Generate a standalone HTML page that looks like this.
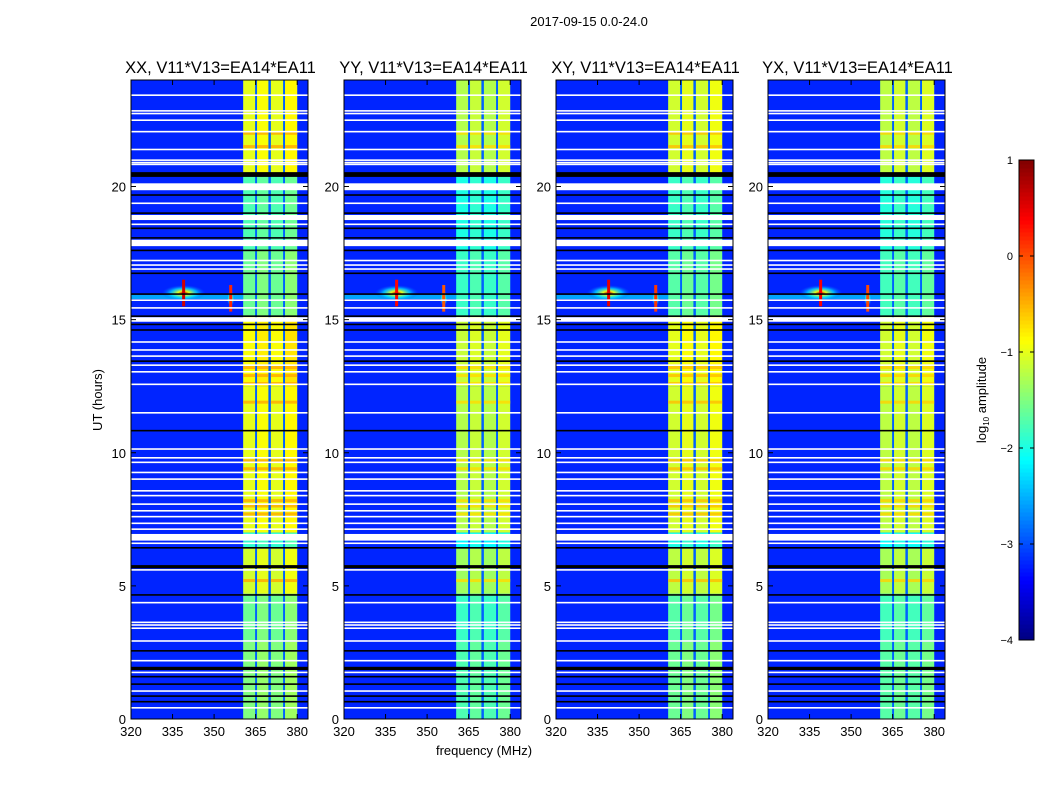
<!DOCTYPE html>
<html><head><meta charset="utf-8"><style>
html,body{margin:0;padding:0;background:#fff;}
svg{display:block;font-family:"Liberation Sans","DejaVu Sans",sans-serif;}
</style></head><body>
<svg id="fig" width="1050" height="800" viewBox="0 0 1050 800">
<text x="589" y="26" font-size="13" text-anchor="middle">2017-09-15 0.0-24.0</text>
<g id="panels"></g>
<text x="484" y="755" font-size="13" text-anchor="middle">frequency (MHz)</text>
<text transform="translate(102,400) rotate(-90)" font-size="13" text-anchor="middle">UT (hours)</text>
<g id="cbar"></g>
<text transform="translate(986,400) rotate(-90)" font-size="13" text-anchor="middle">log<tspan font-size="8" dy="3">10</tspan><tspan dy="-3"> amplitude</tspan></text>
</svg>
<script>
const panelTitles=["XX, V11*V13=EA14*EA11","YY, V11*V13=EA14*EA11","XY, V11*V13=EA14*EA11","YX, V11*V13=EA14*EA11"];
const panelOffsets=[0,-0.25,-0.1,-0.2];
const xTicks=[320,335,350,365,380];
const yTicks=[0,5,10,15,20];
const cbarTicks=[1,0,-1,-2,-3,-4];
const backgroundLevel=-3.2;
const bandColumns=[[360.5,364.8],[365.5,369.6],[370.5,374.9],[375.6,380]];
const columnOffsets=[0,0.1,0,0.15];
const bandSegments=[[20.5,24,-1.0],[17.6,20.5,-1.75],[15.1,17.6,-1.6],[12.5,15.1,-0.9],[8,12.5,-1.0],[7,8,-1.0],[6.4,7,-1.9],[4.7,6.4,-1.1],[2.9,4.7,-1.6],[0,2.9,-1.5]];
const orangeRows=[22.0,21.5,13.2,12.9,12.6,11.9,9.7,9.4,8.2,8.0,7.7,5.2];
const whiteRows=[[23.40,23.46],[22.81,22.87],[22.71,22.77],[22.46,22.52],[22.03,22.09],[21.36,21.42],[20.96,21.02],[20.87,20.93],[20.80,20.86],[19.86,20.12],[19.34,19.40],[18.74,18.93],[18.55,18.61],[17.76,18.0],[17.19,17.25],[17.02,17.08],[16.87,16.93],[15.70,15.76],[15.41,15.47],[14.92,15.09],[14.13,14.19],[13.83,13.89],[13.60,13.66],[13.26,13.32],[13.01,13.07],[12.54,12.60],[11.47,11.53],[10.11,10.17],[9.78,9.84],[9.61,9.67],[9.23,9.29],[8.98,9.04],[8.54,8.60],[8.36,8.42],[8.04,8.10],[7.79,7.85],[7.57,7.63],[7.32,7.38],[7.10,7.16],[6.70,6.95],[6.57,6.63],[5.57,5.63],[4.34,4.40],[3.60,3.66],[3.50,3.56],[3.38,3.44],[2.90,2.96],[2.16,2.22],[1.72,1.78],[1.02,1.08],[0.39,0.45]];
const blackRows=[[20.36,20.54],[19.65,19.71],[18.97,19.03],[18.40,18.46],[18.04,18.10],[17.57,17.63],[16.71,16.77],[15.93,15.99],[15.10,15.16],[14.79,14.85],[14.58,14.64],[13.41,13.47],[10.80,10.86],[6.40,6.46],[5.66,5.78],[4.63,4.69],[2.53,2.59],[1.84,1.96],[1.56,1.62],[1.28,1.34],[0.83,0.89],[0.62,0.68]];
const spots=[[339,16.0,0.6],[356,15.8,0.2]];
const streakHour=15.85;

function jet(v){let t=(v+4)/5;t=Math.max(0,Math.min(1,t));
 const c=x=>Math.round(255*Math.max(0,Math.min(1,x)));
 return `rgb(${c(1.5-Math.abs(4*t-3))},${c(1.5-Math.abs(4*t-2))},${c(1.5-Math.abs(4*t-1))})`;}
const NS="http://www.w3.org/2000/svg";
function mk(tag,attrs,parent){const e=document.createElementNS(NS,tag);for(const k in attrs)e.setAttribute(k,attrs[k]);parent.appendChild(e);return e;}
const lefts=[131,344,556,768],W=177,TOP=80,BOT=719;
const fMin=320,fMax=320+W/2.77;
const panelsG=document.getElementById('panels');
const defs=mk('defs',{},document.getElementById('fig'));
const rg=mk('radialGradient',{id:'spotg'},defs);
mk('stop',{offset:'0','stop-color':jet(0.6)},rg);mk('stop',{offset:'0.25','stop-color':jet(-1)},rg);
mk('stop',{offset:'0.6','stop-color':jet(-2.2),'stop-opacity':'0.7'},rg);mk('stop',{offset:'1','stop-color':jet(-3),'stop-opacity':'0'},rg);

panelTitles.forEach((title,p)=>{
 const L=lefts[p];
 const xs=f=>L+(f-fMin)/(fMax-fMin)*W;
 const ys=h=>BOT-h/24*(BOT-TOP);
 const g=mk('g',{},panelsG);
 
 
 const bg=mk('rect',{x:L,y:TOP,width:W,height:BOT-TOP,fill:jet(backgroundLevel)},g);
 
 
 const gp=mk('rect',{x:xs(bandColumns[0][0]),y:TOP,width:xs(bandColumns[3][1])-xs(bandColumns[0][0]),height:BOT-TOP,fill:jet(-2.9)},g);
 
 
 bandSegments.forEach(s=>{
  bandColumns.forEach((c,ci)=>{
   const r=mk('rect',{x:xs(c[0]),y:ys(s[1]),width:xs(c[1])-xs(c[0]),height:ys(s[0])-ys(s[1]),fill:jet(s[2]+panelOffsets[p]+columnOffsets[ci])},g);
   
   
  });
 });
 orangeRows.forEach(h=>{
  bandColumns.forEach((c,ci)=>{
   const r=mk('rect',{x:xs(c[0]),y:ys(h)-1.5,width:xs(c[1])-xs(c[0]),height:3,fill:jet(-0.45+panelOffsets[p]),opacity:0.8},g);
   
   
  });
 });
 const st=mk('rect',{x:L,y:ys(streakHour)-2,width:xs(bandColumns[0][0])-L,height:4,fill:jet(-2.3),opacity:0.7},g);
 
 
 spots.forEach(s=>{
  const e=mk('ellipse',{cx:xs(s[0]),cy:ys(s[1]),rx:s[2]>0.5?22:4,ry:8,fill:'url(#spotg)'},g);
  
  
  const l=mk('rect',{x:xs(s[0])-1.5,y:ys(s[1]+0.5),width:3,height:ys(s[1]-0.5)-ys(s[1]+0.5),fill:jet(s[2]+panelOffsets[p])},g);
  
  
 });
 blackRows.forEach(r=>{
  const e=mk('rect',{x:L,y:ys(r[1]),width:W,height:Math.max(1.5,ys(r[0])-ys(r[1])),fill:'#000'},g);
  
  
 });
 whiteRows.forEach(r=>{
  const e=mk('rect',{x:L,y:ys(r[1]),width:W,height:Math.max(1.5,ys(r[0])-ys(r[1])),fill:'#fff'},g);
  
  
 });
 const fr=mk('rect',{x:L,y:TOP,width:W,height:BOT-TOP,fill:'none',stroke:'#000','stroke-width':1},g);
 
 
 const t=mk('text',{x:L+W/2+1,y:TOP-7,'font-size':16.5,'text-anchor':'middle'},g);t.textContent=title;
 
 
 xTicks.forEach(v=>{const x=xs(v);
  mk('line',{x1:x,x2:x,y1:BOT,y2:BOT-5,stroke:'#000'},g);mk('line',{x1:x,x2:x,y1:TOP,y2:TOP+5,stroke:'#000'},g);
  const tx=mk('text',{x:x,y:BOT+17,'font-size':13,'text-anchor':'middle'},g);tx.textContent=v;
  
  });
 yTicks.forEach(v=>{const y=ys(v);
  mk('line',{x1:L,x2:L+5,y1:y,y2:y,stroke:'#000'},g);mk('line',{x1:L+W,x2:L+W-5,y1:y,y2:y,stroke:'#000'},g);
  const ty=mk('text',{x:L-5,y:y+5,'font-size':13,'text-anchor':'end'},g);ty.textContent=v;
  
  });
});
const cb=document.getElementById('cbar');
const cTop=160,cBot=640,cX=1019,cW=15;
const cy=v=>cBot-(v+4)/5*(cBot-cTop);
for(let i=0;i<120;i++){const v=-4+5*i/120;
 mk('rect',{x:cX,y:cy(v+5/120),width:cW,height:(cBot-cTop)/120+0.5,fill:jet(v+2.5/120)},cb);}
mk('rect',{x:cX,y:cTop,width:cW,height:cBot-cTop,fill:'none',stroke:'#000'},cb);
cbarTicks.forEach(v=>{const y=cy(v);
 mk('line',{x1:cX,x2:cX+4,y1:y,y2:y,stroke:'#000'},cb);mk('line',{x1:cX+cW,x2:cX+cW-4,y1:y,y2:y,stroke:'#000'},cb);
 const t=mk('text',{x:1013,y:y+4,'font-size':11,'text-anchor':'end'},cb);t.textContent=v<0?'\u2212'+(-v):v;
 
 });
</script>
</body></html>
